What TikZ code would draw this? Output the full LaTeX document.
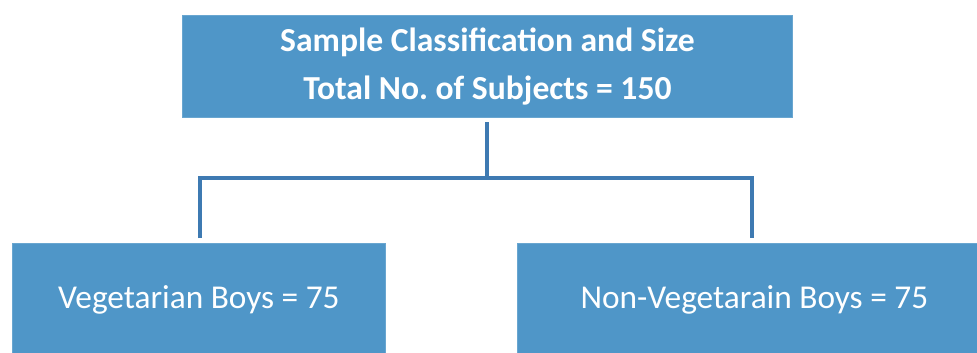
\documentclass[tikz,border=0pt]{standalone}
\usepackage{fontspec}
\setmainfont{Carlito}
\definecolor{boxblue}{RGB}{79,150,200}
\definecolor{lineblue}{RGB}{62,122,178}
\begin{document}
\begin{tikzpicture}[x=0.75pt,y=-0.75pt,
  bluebox/.style={draw=boxblue!85!white,line width=0.6pt,fill=boxblue,text=white,inner sep=0pt,anchor=north west},
  conn/.style={draw=lineblue,line width=2.3pt}]
\useasboundingbox[fill=white] (0,0) rectangle (977,353);
\node[bluebox,minimum width=610*0.75pt,minimum height=102*0.75pt,align=center,font=\fontsize{25.2}{37.5}\selectfont\bfseries] (top) at (182,15)
  {Sample Classification and Size\\[-1pt]Total No.\ of Subjects = 150};
\node[bluebox,minimum width=373*0.75pt,minimum height=112*0.75pt,font=\fontsize{25}{29}\selectfont] (veg) at (12,243)
  {Vegetarian Boys = 75};
\node[bluebox,minimum width=462*0.75pt,minimum height=112*0.75pt,font=\fontsize{25}{29}\selectfont] (nonveg) at (517,243)
  {\hspace*{9pt}Non-Vegetarain Boys = 75};
\coordinate (t0) at (487,122);
\coordinate (hm) at (487,178);
\coordinate (hl) at (200,178);
\coordinate (hr) at (752,178);
\coordinate (l1) at (200,238);
\coordinate (r1) at (752,238);
\draw[conn] (t0) -- (hm);
\draw[conn] (l1) -- (hl) -- (hr) -- (r1);
\end{tikzpicture}
\end{document}
